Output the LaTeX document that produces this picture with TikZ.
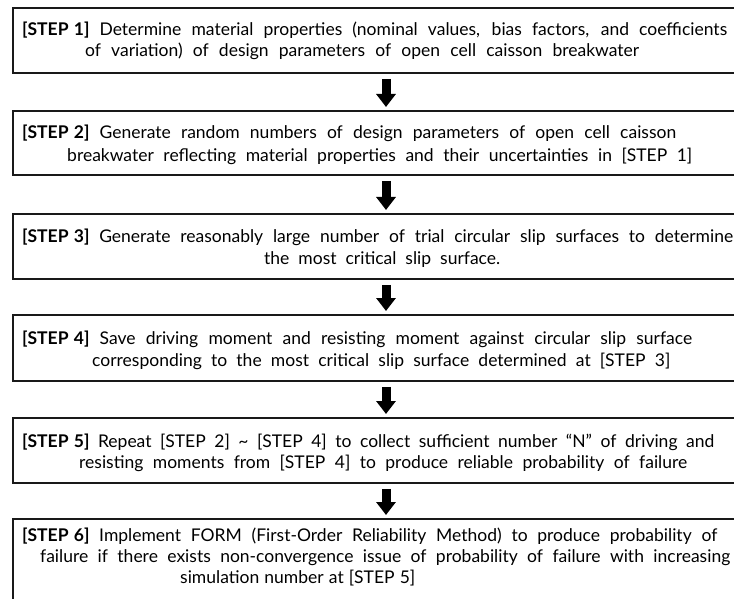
\documentclass[tikz,border=0pt]{standalone}
\usepackage{fontspec}
\setmainfont{Lato}
\usepackage{graphicx}
\usetikzlibrary{arrows.meta}

% Set a line of text to an exact width: stretch the spaces if it is short,
% squeeze it horizontally if it is too long.
\newsavebox\fitbox
\newlength\fitht
\newcommand\fitline[2]{%
  \sbox\fitbox{#2}%
  \setlength\fitht{\ht\fitbox}%
  \ifdim\wd\fitbox>#1\relax
    \resizebox{#1}{\fitht}{\usebox\fitbox}%
  \else
    \makebox[#1][s]{#2}%
  \fi}
\newcommand\stp[1]{\textbf{[STEP\hspace{0.3em}#1]}}

\tikzset{
  stepbox/.style={draw=black!90, line width=1.8pt, rectangle, inner sep=0pt,
    minimum width=726pt, anchor=north west},
  txtline/.style={inner sep=0pt, anchor=base west, text=black,
    font=\fontsize{17.5}{20}\selectfont},
  flowarrow/.style={line width=9pt, draw=black,
    -{Triangle[width=19pt,length=13pt]}, shorten <=5pt, shorten >=3pt}
}

\begin{document}
\begin{tikzpicture}[x=1pt,y=-1pt]
\useasboundingbox (0,0) rectangle (734,599);

% step boxes
\node[stepbox, minimum height=65pt] (b1) at (12,7) {};
\node[stepbox, minimum height=64pt] (b2) at (12,110) {};
\node[stepbox, minimum height=65pt] (b3) at (12,213) {};
\node[stepbox, minimum height=66pt] (b4) at (12,314) {};
\node[stepbox, minimum height=65pt] (b5) at (12,417) {};
\node[stepbox, minimum height=86pt] (b6) at (12,518) {};

% step texts
\node[txtline] (t1a) at (22,36) {\fitline{705pt}{\stp{1} Determine material properties (nominal values, bias factors, and coefficients}};
\node[txtline] (t1b) at (85,57) {\fitline{554pt}{of variation) of design parameters of open cell caisson breakwater}};

\node[txtline] (t2a) at (22,139) {\fitline{654pt}{\stp{2} Generate random numbers of design parameters of open cell caisson}};
\node[txtline] (t2b) at (67,162) {\fitline{625pt}{breakwater reflecting material properties and their uncertainties in [STEP 1]}};

\node[txtline] (t3a) at (22,242) {\fitline{711pt}{\stp{3} Generate reasonably large number of trial circular slip surfaces to determine}};
\node[txtline] (t3b) at (264,264) {\fitline{236pt}{the most critical slip surface.}};

\node[txtline] (t4a) at (22,344) {\fitline{670pt}{\stp{4} Save driving moment and resisting moment against circular slip surface}};
\node[txtline] (t4b) at (92,366) {\fitline{578pt}{corresponding to the most critical slip surface determined at [STEP 3]}};

\node[txtline] (t5a) at (22,447) {\fitline{692pt}{\stp{5} Repeat [STEP 2] \textasciitilde{} [STEP 4] to collect sufficient number “N” of driving and}};
\node[txtline] (t5b) at (79,468) {\fitline{608pt}{resisting moments from [STEP 4] to produce reliable probability of failure}};

\node[txtline] (t6a) at (22,541) {\fitline{695pt}{\stp{6} Implement FORM (First-Order Reliability Method) to produce probability of}};
\node[txtline] (t6b) at (40,562) {\fitline{690pt}{failure if there exists non-convergence issue of probability of failure with increasing}};
\node[txtline] (t6c) at (180,583) {\fitline{235pt}{simulation number at [STEP 5]}};

% connecting arrows
\coordinate (ax) at (386,0);
\draw[flowarrow] (b1.south -| ax) -- (b2.north -| ax);
\draw[flowarrow] (b2.south -| ax) -- (b3.north -| ax);
\draw[flowarrow] (b3.south -| ax) -- (b4.north -| ax);
\draw[flowarrow] (b4.south -| ax) -- (b5.north -| ax);
\draw[flowarrow] (b5.south -| ax) -- (b6.north -| ax);
\end{tikzpicture}
\end{document}
